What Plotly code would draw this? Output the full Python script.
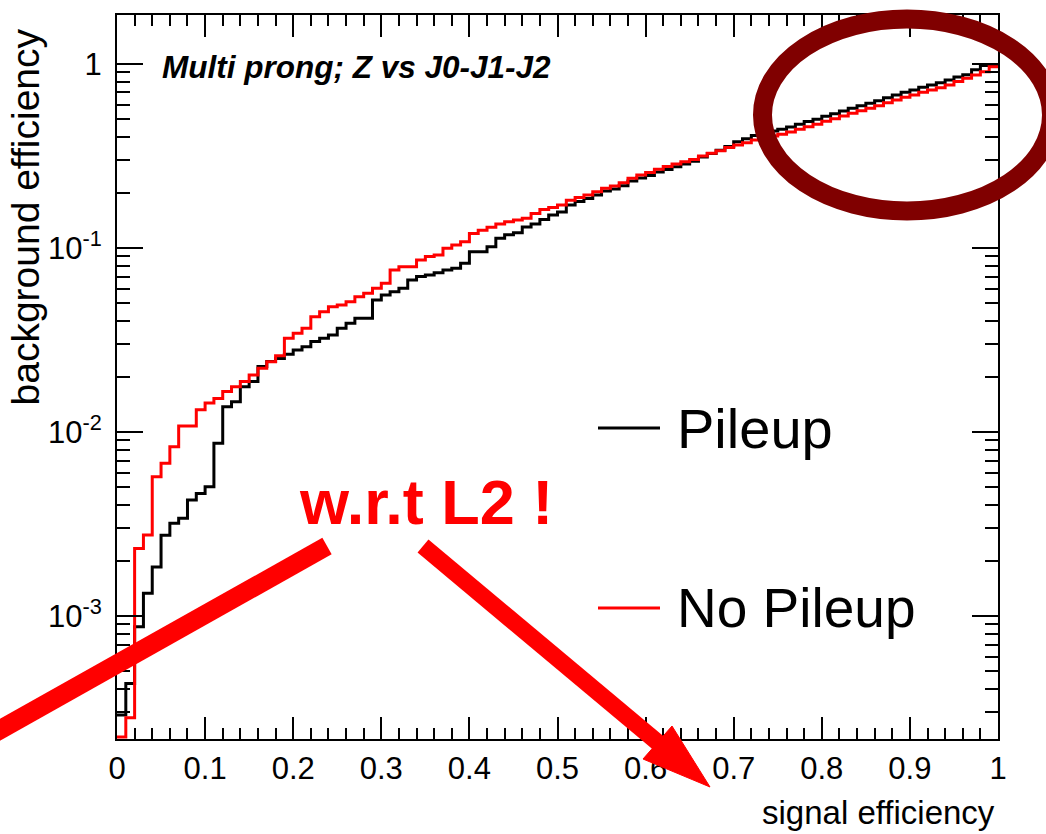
import numpy as np
import plotly.graph_objects as go

# ---------------- data ----------------
bin_width = 0.01
n_bins = 100
sig_eff_edges = [round(i * bin_width, 2) for i in range(n_bins + 1)]

bkg_eff_pileup = [
    2.9e-4, 4.3e-4, 8.75e-4, 1.33e-3, 1.85e-3, 2.75e-3, 3.19e-3, 3.40e-3, 4.27e-3, 4.64e-3,
    5.05e-3, 8.69e-3, 1.37e-2, 1.46e-2, 1.76e-2, 1.88e-2, 2.27e-2, 2.42e-2, 2.51e-2, 2.65e-2,
    2.79e-2, 2.91e-2, 3.10e-2, 3.23e-2, 3.37e-2, 3.66e-2, 3.90e-2, 4.15e-2, 4.15e-2, 5.22e-2,
    5.56e-2, 5.79e-2, 6.04e-2, 6.70e-2, 6.99e-2, 7.13e-2, 7.34e-2, 7.59e-2, 7.75e-2, 8.25e-2,
    9.55e-2, 9.55e-2, 0.1016, 0.113, 0.118, 0.121, 0.130, 0.135, 0.143, 0.151,
    0.157, 0.171, 0.179, 0.186, 0.194, 0.204, 0.209, 0.218, 0.231, 0.240,
    0.248, 0.259, 0.267, 0.276, 0.286, 0.296, 0.312, 0.326, 0.340, 0.356,
    0.378, 0.392, 0.409, 0.421, 0.432, 0.442, 0.455, 0.471, 0.486, 0.501,
    0.520, 0.537, 0.555, 0.575, 0.593, 0.611, 0.632, 0.656, 0.678, 0.702,
    0.723, 0.748, 0.769, 0.791, 0.819, 0.850, 0.875, 0.930, 0.980, 0.990,
]

bkg_eff_nopileup = [
    2.2e-4, 2.8e-4, 2.33e-3, 2.76e-3, 5.72e-3, 6.76e-3, 8.32e-3, 1.08e-2, 1.08e-2, 1.32e-2,
    1.44e-2, 1.52e-2, 1.66e-2, 1.76e-2, 1.88e-2, 2.04e-2, 2.22e-2, 2.41e-2, 2.60e-2, 3.23e-2,
    3.44e-2, 3.66e-2, 4.23e-2, 4.51e-2, 4.80e-2, 4.90e-2, 5.11e-2, 5.44e-2, 5.67e-2, 6.04e-2,
    6.43e-2, 7.59e-2, 7.92e-2, 7.92e-2, 8.61e-2, 8.98e-2, 9.17e-2, 0.0996, 0.1038, 0.108,
    0.120, 0.125, 0.1295, 0.135, 0.139, 0.142, 0.145, 0.154, 0.162, 0.166,
    0.171, 0.182, 0.188, 0.194, 0.202, 0.211, 0.217, 0.226, 0.239, 0.249,
    0.257, 0.268, 0.277, 0.286, 0.294, 0.303, 0.316, 0.327, 0.338, 0.352,
    0.363, 0.373, 0.386, 0.395, 0.406, 0.415, 0.427, 0.442, 0.456, 0.470,
    0.488, 0.504, 0.521, 0.540, 0.557, 0.574, 0.593, 0.616, 0.637, 0.659,
    0.679, 0.702, 0.722, 0.743, 0.769, 0.802, 0.836, 0.871, 0.908, 0.967,
]

x_tick_vals = [0, 0.1, 0.2, 0.3, 0.4, 0.5, 0.6, 0.7, 0.8, 0.9, 1.0]
x_tick_text = ["0", "0.1", "0.2", "0.3", "0.4", "0.5", "0.6", "0.7", "0.8", "0.9", "1"]
y_tick_vals = [1e-3, 1e-2, 1e-1, 1]
y_tick_text = ["10<sup>-3</sup>", "10<sup>-2</sup>", "10<sup>-1</sup>", "1"]

series_names = ["Pileup", "No Pileup"]
title_text = "<b><i>Multi prong; Z vs J0-J1-J2</i></b>"
note_text = "<b>w.r.t L2 !</b>"

# ---------------- figure ----------------
W, H = 1046, 834
L, R, T, B = 117, 998, 15, 739


def px_x(p):
    return (p - L) / (R - L)


def px_y(p):
    return (B - p) / (B - T)


FONT = "Liberation Sans, Arial, Helvetica, sans-serif"

fig = go.Figure()

for vals, name, col in [(bkg_eff_pileup, series_names[0], "#000000"),
                        (bkg_eff_nopileup, series_names[1], "#ff0000")]:
    fig.add_trace(go.Scatter(
        x=sig_eff_edges,
        y=list(vals) + [vals[-1]],
        mode="lines",
        line=dict(color=col, width=3, shape="hv"),
        name=name,
        showlegend=False,
        cliponaxis=True,
    ))

# empty trace so that the mirrored (top/right) tick axes are drawn
fig.add_trace(go.Scatter(x=[], y=[], xaxis="x2", yaxis="y2", showlegend=False, hoverinfo="skip"))

yrange = [-3.668, 0.266]

common_x = dict(
    range=[0, 1], showgrid=False, zeroline=False,
    showline=True, linecolor="black", linewidth=2,
    ticks="inside", ticklen=22, tickwidth=2, tickcolor="black",
    tickvals=x_tick_vals, ticktext=x_tick_text,
    minor=dict(ticks="inside", ticklen=11, tickwidth=2, tickcolor="black", dtick=0.02, tick0=0, showgrid=False),
)
common_y = dict(
    type="log", range=yrange, showgrid=False, zeroline=False,
    showline=True, linecolor="black", linewidth=2,
    ticks="inside", ticklen=26, tickwidth=2, tickcolor="black",
    tickvals=y_tick_vals, ticktext=y_tick_text,
    minor=dict(ticks="inside", ticklen=13, tickwidth=2, tickcolor="black", dtick="D1", showgrid=False),
)

fig.update_layout(
    width=W, height=H,
    margin=dict(l=L, r=W - R, t=T, b=H - B, pad=0),
    paper_bgcolor="white", plot_bgcolor="white",
    showlegend=False,
    xaxis=dict(**common_x, tickfont=dict(family=FONT, size=31, color="black"), ticklabelstandoff=1),
    yaxis=dict(**common_y, tickfont=dict(family=FONT, size=31, color="black"), ticklabelstandoff=7),
    xaxis2=dict(**common_x, overlaying="x", side="top", anchor="y2", showticklabels=False),
    yaxis2=dict(**common_y, overlaying="y", side="right", anchor="x2", showticklabels=False),
)

annotations = [
    dict(text=title_text, x=px_x(160), y=px_y(67), xref="paper", yref="paper",
         xanchor="left", yanchor="middle", showarrow=False,
         font=dict(family=FONT, size=31.5, color="black")),
    dict(text="signal efficiency", x=px_x(997), y=px_y(812), xref="paper", yref="paper",
         xanchor="right", yanchor="middle", showarrow=False,
         font=dict(family=FONT, size=33, color="black")),
    dict(text="background efficiency", x=px_x(25), y=px_y(27), xref="paper", yref="paper",
         xanchor="center", yanchor="top", textangle=-90, showarrow=False,
         font=dict(family=FONT, size=39, color="black")),
    dict(text=series_names[0], x=px_x(675), y=px_y(428), xref="paper", yref="paper",
         xanchor="left", yanchor="middle", showarrow=False,
         font=dict(family=FONT, size=56, color="black")),
    dict(text=series_names[1], x=px_x(675), y=px_y(608), xref="paper", yref="paper",
         xanchor="left", yanchor="middle", showarrow=False,
         font=dict(family=FONT, size=55, color="black")),
    dict(text=note_text, x=px_x(297), y=px_y(502), xref="paper", yref="paper",
         xanchor="left", yanchor="middle", showarrow=False,
         font=dict(family=FONT, size=63, color="#ff0000")),
]
fig.update_layout(annotations=annotations)

shapes = [
    # legend line samples
    dict(type="line", xref="paper", yref="paper", x0=px_x(598), x1=px_x(660),
         y0=px_y(428), y1=px_y(428), line=dict(color="black", width=3)),
    dict(type="line", xref="paper", yref="paper", x0=px_x(598), x1=px_x(660),
         y0=px_y(608), y1=px_y(608), line=dict(color="#ff0000", width=3)),
    # highlight ellipse
    dict(type="circle", xref="paper", yref="paper", x0=px_x(762.5), x1=px_x(1051.5),
         y0=px_y(211), y1=px_y(19), line=dict(color="#800000", width=19)),
    # red arrows
    dict(type="line", xref="paper", yref="paper", x0=px_x(327), y0=px_y(546),
         x1=px_x(-20), y1=px_y(741), line=dict(color="#ff0000", width=19)),
    dict(type="line", xref="paper", yref="paper", x0=px_x(423), y0=px_y(546),
         x1=px_x(662), y1=px_y(746), line=dict(color="#ff0000", width=17)),
    dict(type="path", xref="paper", yref="paper",
         path=f"M {px_x(710)},{px_y(787)} L {px_x(672)},{px_y(726)} L {px_x(643)},{px_y(759)} Z",
         fillcolor="#ff0000", line=dict(color="#ff0000", width=1)),
]
fig.update_layout(shapes=shapes)

fig.write_html("out.html")
